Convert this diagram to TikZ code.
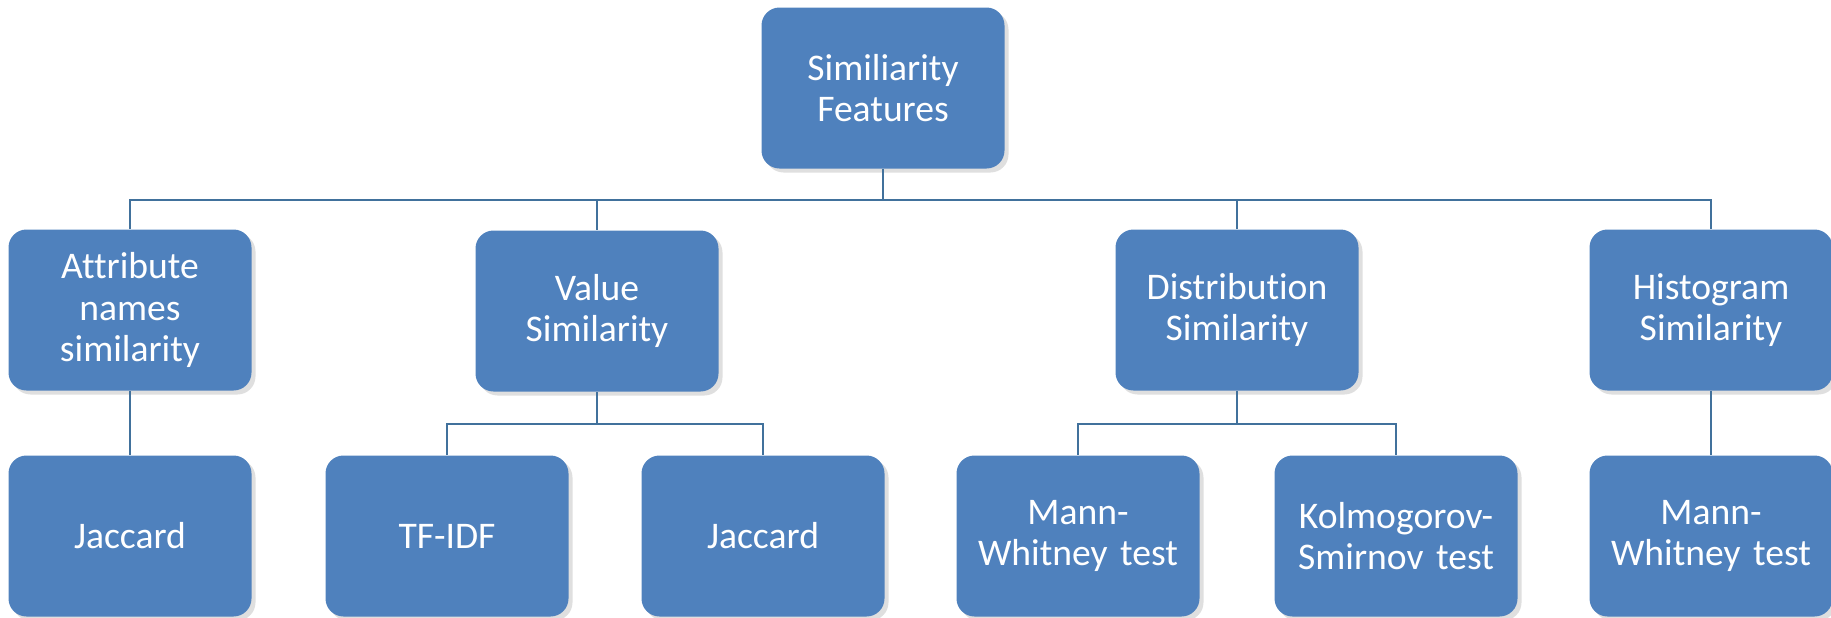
\documentclass[tikz,border=0pt]{standalone}
\usepackage{fontspec}
\setmainfont{Carlito}[Ligatures=NoCommon]
\usetikzlibrary{shadows}
\definecolor{boxblue}{HTML}{4F81BD}
\definecolor{lineblue}{HTML}{41719C}
\begin{document}
\begin{tikzpicture}
\tikzstyle{box} = [rectangle, rounded corners=0.18cm, fill=boxblue, text=white, inner sep=0.05cm, minimum width=2.43cm, minimum height=1.61cm, text width=2.3cm, align=center, font=\fontsize{10.7}{11.7}\selectfont, drop shadow={opacity=0.25, shadow xshift=0.04cm, shadow yshift=-0.04cm}]
\tikzstyle{edge} = [draw=lineblue, line width=0.6pt]
\useasboundingbox (0,0) rectangle (18.31,-6.17);
% -----------------------------------
% top
\node[box] (feat) at (8.83, -0.88) {Similiarity\\Features};
% -----------------------------------
% level 1
\node[box] (attr) at (1.30, -3.10) {Attribute\\names\\similarity};
\node[box] (val) at (5.97, -3.11) {Value\\Similarity};
\node[box] (dist) at (12.37, -3.10) {Distribution\\Similarity};
\node[box] (hist) at (17.11, -3.10) {Histogram\\Similarity};
% -----------------------------------
% level 2
\node[box] (jac1) at (1.30, -5.36) {Jaccard};
\node[box] (tfidf) at (4.47, -5.36) {TF-IDF};
\node[box] (jac2) at (7.63, -5.36) {Jaccard};
\node[box] (mw1) at (10.78, -5.36) {Mann-\\Whitney test};
\node[box] (ks) at (13.96, -5.36) {Kolmogorov-\\Smirnov test};
\node[box] (mw2) at (17.11, -5.36) {Mann-\\Whitney test};
% -----------------------------------
% connectors
\draw[edge] (feat.south) -- ++(0,-0.31) -| (attr);
\draw[edge] (feat.south) -- ++(0,-0.31) -| (val);
\draw[edge] (feat.south) -- ++(0,-0.31) -| (dist);
\draw[edge] (feat.south) -- ++(0,-0.31) -| (hist);

\draw[edge] (attr) -- (jac1);
\draw[edge] (val.south) -- ++(0,-0.32) -| (tfidf);
\draw[edge] (val.south) -- ++(0,-0.32) -| (jac2);
\draw[edge] (dist.south) -- ++(0,-0.33) -| (mw1);
\draw[edge] (dist.south) -- ++(0,-0.33) -| (ks);
\draw[edge] (hist) -- (mw2);
% -----------------------------------
\end{tikzpicture}
\end{document}
